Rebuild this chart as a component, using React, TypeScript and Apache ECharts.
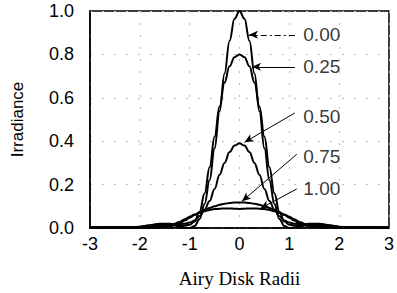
import React, { useEffect, useRef } from "react";
import * as echarts from "echarts";

const XS = [-3, -2.5, -2.2, -2, -1.8, -1.6, -1.4, -1.2, -1.1, -1, -0.9, -0.8, -0.7, -0.6, -0.5, -0.4, -0.3, -0.2, -0.1, 0,
  0.1, 0.2, 0.3, 0.4, 0.5, 0.6, 0.7, 0.8, 0.9, 1, 1.1, 1.2, 1.4, 1.6, 1.8, 2, 2.2, 2.5, 3];

const Y000 = [0.003, 0.003, 0.001, 0.005, 0.013, 0.017, 0.015, 0.007, 0.002, 0, 0.009, 0.042, 0.111, 0.221, 0.367, 0.538, 0.712, 0.862, 0.964, 1,
  0.964, 0.862, 0.712, 0.538, 0.367, 0.221, 0.111, 0.042, 0.009, 0, 0.002, 0.007, 0.015, 0.017, 0.013, 0.005, 0.001, 0.003, 0.003];
const Y025 = [0.002, 0.003, 0.003, 0.006, 0.012, 0.02, 0.02, 0.014, 0.012, 0.015, 0.03, 0.075, 0.16, 0.28, 0.42, 0.56, 0.67, 0.745, 0.787, 0.8,
  0.787, 0.745, 0.67, 0.56, 0.42, 0.28, 0.16, 0.075, 0.03, 0.015, 0.012, 0.014, 0.02, 0.02, 0.012, 0.006, 0.003, 0.003, 0.002];
const Y050 = [0.002, 0.003, 0.004, 0.005, 0.008, 0.012, 0.015, 0.018, 0.02, 0.025, 0.035, 0.055, 0.085, 0.125, 0.18, 0.245, 0.30, 0.35, 0.38, 0.39,
  0.38, 0.35, 0.30, 0.245, 0.18, 0.125, 0.085, 0.055, 0.035, 0.025, 0.02, 0.018, 0.015, 0.012, 0.008, 0.005, 0.004, 0.003, 0.002];
const Y075 = [0.001, 0.001, 0.001, 0.002, 0.002, 0.003, 0.008, 0.022, 0.034, 0.047, 0.06, 0.072, 0.083, 0.092, 0.1, 0.107, 0.112, 0.115, 0.117, 0.118,
  0.117, 0.115, 0.112, 0.107, 0.1, 0.092, 0.083, 0.072, 0.06, 0.047, 0.034, 0.022, 0.008, 0.003, 0.002, 0.002, 0.001, 0.001, 0.001];
const Y100 = [0.001, 0.001, 0.002, 0.002, 0.002, 0.004, 0.011, 0.028, 0.04, 0.052, 0.062, 0.07, 0.077, 0.083, 0.087, 0.089, 0.09, 0.09, 0.089, 0.088,
  0.089, 0.09, 0.09, 0.089, 0.087, 0.083, 0.077, 0.07, 0.062, 0.052, 0.04, 0.028, 0.011, 0.004, 0.002, 0.002, 0.002, 0.001, 0.001];

const SERIES_NAMES = ["0.00", "0.25", "0.50", "0.75", "1.00"];
const SERIES_VALUES = [Y000, Y025, Y050, Y075, Y100];

const ANNOT_LABELS = ["0.00", "0.25", "0.50", "0.75", "1.00"];
const ANNOT_START = [[1.11, 0.89], [1.11, 0.743], [1.11, 0.53], [1.15, 0.34], [1.15, 0.18]];
const ANNOT_END = [[0.19, 0.89], [0.25, 0.743], [0.1, 0.395], [0.05, 0.123], [0.42, 0.09]];
const ANNOT_TEXT_POS = [[1.27, 0.89], [1.27, 0.743], [1.27, 0.515], [1.27, 0.33], [1.27, 0.18]];

const X_TICKS = [-3, -2, -1, 0, 1, 2, 3];
const Y_TICKS = [0, 0.2, 0.4, 0.6, 0.8, 1.0];

const SANS = "Liberation Sans, Arial, sans-serif";
const SERIF = "Liberation Serif, Times New Roman, serif";

export default function App() {
  const ref = useRef<HTMLDivElement>(null);
  useEffect(() => {
    if (!ref.current) return;
    const chart = echarts.init(ref.current, null, { renderer: "svg" });
    const markData = ANNOT_LABELS.map((lab, i) => [
      {
        name: lab,
        coord: ANNOT_START[i],
        lineStyle: i === 0 ? { type: [6, 3, 2, 3] } : { type: "solid" },
      },
      { coord: ANNOT_END[i] },
    ]);
    const lineSeries = SERIES_NAMES.map((n, i) => ({
      name: n,
      type: "line",
      data: XS.map((x, j) => [x, SERIES_VALUES[i][j]]),
      showSymbol: false,
      smooth: 0.4,
      smoothMonotone: "x",
      lineStyle: { color: "#000", width: 2 },
      silent: true,
      z: 3,
      markLine:
        i === 0
          ? {
              silent: true,
              symbol: ["none", "arrow"],
              symbolSize: [6, 9],
              lineStyle: { color: "#000", width: 1 },
              label: { show: false },
              data: markData,
            }
          : undefined,
    }));
    chart.setOption({
      animation: false,
      backgroundColor: "#ffffff",
      grid: { left: 90, right: 3, top: 11, bottom: 64, show: true, borderColor: "#000", borderWidth: 1.5 },
      xAxis: {
        type: "value",
        min: X_TICKS[0],
        max: X_TICKS[X_TICKS.length - 1],
        interval: 1,
        name: "Airy Disk Radii",
        nameLocation: "middle",
        nameGap: 41,
        nameTextStyle: { fontFamily: SERIF, fontSize: 19, color: "#000" },
        axisLine: { show: true, onZero: false, lineStyle: { color: "#000", width: 1.5 } },
        axisTick: { show: false },
        axisLabel: { fontFamily: SANS, fontSize: 18, color: "#000", margin: 7, formatter: (v: number) => String(v) },
        splitLine: { show: true, lineStyle: { color: "#bbb", type: [2, 10], width: 1 } },
      },
      yAxis: {
        type: "value",
        min: Y_TICKS[0],
        max: Y_TICKS[Y_TICKS.length - 1],
        interval: 0.2,
        name: "Irradiance",
        nameLocation: "middle",
        nameGap: 64,
        nameTextStyle: { fontFamily: SANS, fontSize: 17, color: "#000" },
        axisLine: { show: true, onZero: false, lineStyle: { color: "#000", width: 1.5 } },
        axisTick: { show: false },
        axisLabel: { fontFamily: SANS, fontSize: 18, color: "#000", margin: 16, formatter: (v: number) => v.toFixed(1) },
        splitLine: { show: true, lineStyle: { color: "#bbb", type: [2, 10], width: 1 } },
      },
      series: [
        ...lineSeries,
        {
          name: "labels",
          type: "scatter",
          silent: true,
          symbolSize: 1,
          itemStyle: { color: "rgba(0,0,0,0)" },
          data: ANNOT_TEXT_POS.map((p, i) => ({ value: p, name: ANNOT_LABELS[i] })),
          label: {
            show: true,
            position: "right",
            distance: 0,
            formatter: "{b}",
            fontFamily: SANS,
            fontSize: 19,
            color: "#000",
          },
          z: 5,
        },
      ],
    });
    return () => chart.dispose();
  }, []);
  return <div ref={ref} style={{ position: "fixed", left: 0, top: 0, width: 397, height: 293 }} />;
}
